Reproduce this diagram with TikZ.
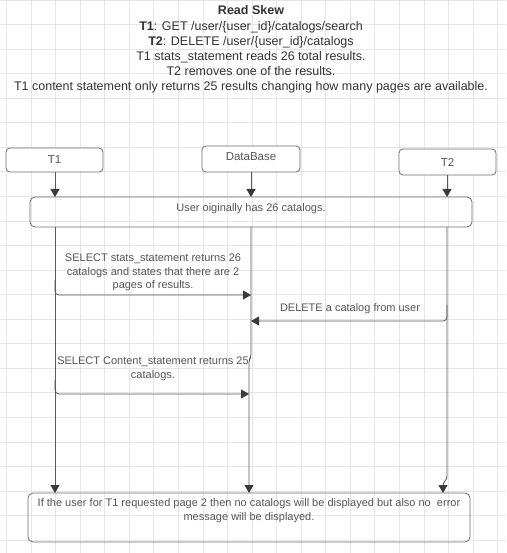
\documentclass[tikz,border=0pt]{standalone}
\usepackage{fontspec}
\setmainfont{Liberation Sans}
\usetikzlibrary{arrows.meta}
\definecolor{gridc}{HTML}{E5E5E5}
\definecolor{txt}{HTML}{333333}
\definecolor{lbl}{HTML}{555555}
\definecolor{edge}{HTML}{6E6E6E}
\definecolor{ln}{HTML}{5A5A5A}
\definecolor{tip}{HTML}{3A3A3A}
\tikzset{
  actor/.style={draw=edge, line width=0.8pt, rounded corners=4pt, fill=white, text=lbl, font=\fontsize{11.5}{13}\selectfont, inner sep=0pt},
  notebox/.style={draw=edge, line width=0.8pt, rounded corners=5pt, inner sep=0pt},
  msg/.style={draw=ln, line width=0.8pt, rounded corners=4pt, -{Triangle[width=9pt,length=8pt,color=tip]}},
  lifearrow/.style={draw=ln, line width=0.8pt, rounded corners=3pt, -{Triangle[width=9pt,length=8pt,color=tip]}},
  lbltext/.style={text=lbl, font=\fontsize{11}{13.6}\selectfont, align=center, inner sep=0pt},
}
\begin{document}
\begin{tikzpicture}[x=1pt,y=-1pt]
\useasboundingbox (0,0) rectangle (506,553);
\fill[white] (0,0) rectangle (506,553);
% grid
\foreach \k in {0,...,20} {\draw[gridc, line width=0.7pt] ({6.5+24.55*\k},0) -- ({6.5+24.55*\k},553);}
\foreach \k in {0,...,22} {\draw[gridc, line width=0.7pt] (0,{24.55*\k}) -- (506,{24.55*\k});}
% title
\node[text=txt, font=\fontsize{12.5}{15.1}\selectfont, align=center, inner sep=0pt] (title) at (251,49.5)
 {\textbf{Read Skew}\\
  \textbf{T1}: GET /user/\{user\_id\}/catalogs/search\\
  \textbf{T2}: DELETE /user/\{user\_id\}/catalogs\\
  T1 stats\_statement reads 26 total results.\\
  T2 removes one of the results.\\
  T1 content statement only returns 25 results changing how many pages are available.};
% actors
\node[actor, minimum width=97pt, minimum height=24pt] (t1) at (54.5,160) {T1};
\node[actor, minimum width=98pt, minimum height=26pt] (db) at (251,159) {};
\node[lbltext, font=\fontsize{11.5}{13}\selectfont] (dbt) at (251,157) {DataBase};
\node[actor, minimum width=97pt, minimum height=26pt] (t2) at (447.5,162) {T2};
% user box
\node[notebox, minimum width=442pt, minimum height=30pt] (user) at (251,212) {};
\node[lbltext] (usert) at (251,208.5) {User oiginally has 26 catalogs.};
% bottom box
\node[notebox, minimum width=442pt, minimum height=49pt] (final) at (249,517.5) {};
\node[lbltext] (finalt) at (249,510.5) {If the user for T1 requested page 2 then no catalogs will be displayed but also no\ \ error\\ message will be displayed.};
% lifeline coordinates
\coordinate (t1top) at (55,197);
\coordinate (dbtop) at (251,197);
\coordinate (t2top) at (447,197);
\coordinate (t1u) at (55,227);
\coordinate (dbu) at (251,227);
\coordinate (t2u) at (447,227);
\coordinate (t1b) at (55,493);
\coordinate (dbb) at (249,493);
\coordinate (t2b) at (443,493);
\coordinate (dbj) at (251,357);
\coordinate (t2j) at (447,479);
% top arrows
\draw[lifearrow] (t1top |- t1.south) -- (t1top);
\draw[lifearrow] (dbtop |- db.south) -- (dbtop);
\draw[lifearrow] (t2top |- t2.south) -- (t2top);
% lifelines
\draw[lifearrow] (t1u) -- (t1b);
\draw[lifearrow] (dbu) -- (dbj) -- ++(-2,3) -- (dbb);
\draw[lifearrow] (t2u) -- (t2j) -- ++(-4,4) -- (t2b);
% messages
\coordinate (m1s) at (55,280);
\coordinate (m1e) at (251,295);
\draw[msg] (m1s) |- (m1e);
\node[lbltext] (m1l) at (153,272.5) {SELECT stats\_statement returns 26\\catalogs and states that there are 2\\pages of results.};
\coordinate (m2s) at (447,305);
\coordinate (m2e) at (251,321);
\draw[msg] (m2s) |- (m2e);
\node[lbltext] (m2l) at (350,309) {DELETE a catalog from user};
\coordinate (m3s) at (55,380);
\coordinate (m3e) at (249,394);
\draw[msg] (m3s) |- (m3e);
\node[lbltext] (m3l) at (153,369) {SELECT Content\_statement returns 25\\catalogs.};
\end{tikzpicture}
\end{document}
